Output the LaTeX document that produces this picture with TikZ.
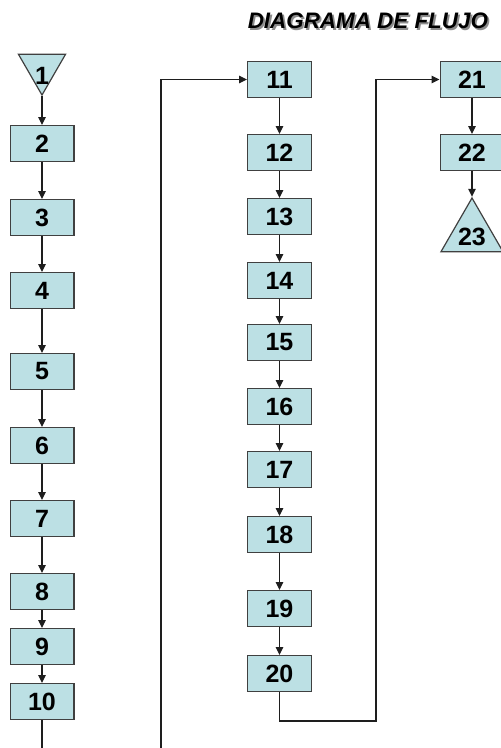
\documentclass[tikz,border=0pt]{standalone}
\usepackage{fontspec}
\usepackage{xcolor}
\usepackage{tikz}
\usetikzlibrary{positioning,arrows.meta,shapes.geometric}
\newfontfamily\arialfont{Liberation Sans}
\definecolor{boxfill}{RGB}{188,224,228}
\definecolor{boxline}{RGB}{64,64,64}
\definecolor{linecol}{RGB}{30,30,30}
\newcommand{\shadowtext}[1]{\makebox[0pt][l]{\kern1.8pt\raisebox{-1.8pt}{\color{black!45}#1}}#1}

\begin{document}
\begin{tikzpicture}[
  x=1pt, y=-1pt,
  node distance=36pt,
  num/.style={font=\arialfont\fontsize{25}{25}\selectfont\bfseries},
  box/.style={draw=boxline, fill=boxfill, line width=1.2pt, rectangle, minimum width=63.8pt, minimum height=35.8pt, inner sep=0pt, num},
  tri/.style={draw=boxline, fill=boxfill, line width=1.2pt, regular polygon, regular polygon sides=3, inner sep=0pt},
  title/.style={font=\arialfont\fontsize{22.4}{22.4}\selectfont\bfseries\itshape},
  flow/.style={draw=linecol, line width=1.1pt},
  >={Triangle[length=8pt,width=7.5pt]}
]
\useasboundingbox (0,0) rectangle (501,748);

\node[title] (title) at (367.9,21.9) {\shadowtext{DIAGRAMA DE FLUJO}};

\node[tri, shape border rotate=180, minimum size=54.3pt, label={[num, yshift=-7.5pt]center:1}] (n1) at (42,67.9) {};
\node[box] (n2) at (42,143.5) {2};
\node[box, below=37pt of n2] (n3) {3};
\node[box, below=of n3] (n4) {4};
\node[box, below=44pt of n4] (n5) {5};
\node[box, below=37pt of n5] (n6) {6};
\node[box, below=of n6] (n7) {7};
\node[box, below=of n7] (n8) {8};
\node[box, below=18pt of n8] (n9) {9};
\node[box, below=18pt of n9] (n10) {10};

\node[box] (n11) at (279.5,79.5) {11};
\node[box, below=of n11] (n12) {12};
\node[box, below=27pt of n12] (n13) {13};
\node[box, below=27pt of n13] (n14) {14};
\node[box, below=25pt of n14] (n15) {15};
\node[box, below=27pt of n15] (n16) {16};
\node[box, below=26pt of n16] (n17) {17};
\node[box, below=28pt of n17] (n18) {18};
\node[box, below=37pt of n18] (n19) {19};
\node[box, below=28pt of n19] (n20) {20};

\node[box] (n21) at (472,79.5) {21};
\node[box, below=of n21] (n22) {22};
\node[tri, minimum size=71.6pt, label={[num, yshift=-3pt]center:23}] (n23) at (472,233.8) {};

\coordinate (out10) at (42,748);
\coordinate (in11) at (161,748);
\coordinate (turn20) at (376,721);

\draw[flow,->] (n1.corner 1) -- (n2);
\draw[flow,->] (n2) -- (n3);
\draw[flow,->] (n3) -- (n4);
\draw[flow,->] (n4) -- (n5);
\draw[flow,->] (n5) -- (n6);
\draw[flow,->] (n6) -- (n7);
\draw[flow,->] (n7) -- (n8);
\draw[flow,->] (n8) -- (n9);
\draw[flow,->] (n9) -- (n10);
\draw[flow] (n10) -- (out10);

\draw[flow,->] (in11) |- (n11);
\draw[flow,->] (n11) -- (n12);
\draw[flow,->] (n12) -- (n13);
\draw[flow,->] (n13) -- (n14);
\draw[flow,->] (n14) -- (n15);
\draw[flow,->] (n15) -- (n16);
\draw[flow,->] (n16) -- (n17);
\draw[flow,->] (n17) -- (n18);
\draw[flow,->] (n18) -- (n19);
\draw[flow,->] (n19) -- (n20);
\draw[flow,->] (n20) |- (turn20) |- (n21);

\draw[flow,->] (n21) -- (n22);
\draw[flow,->] (n22) -- (n23.corner 1);
\end{tikzpicture}
\end{document}
